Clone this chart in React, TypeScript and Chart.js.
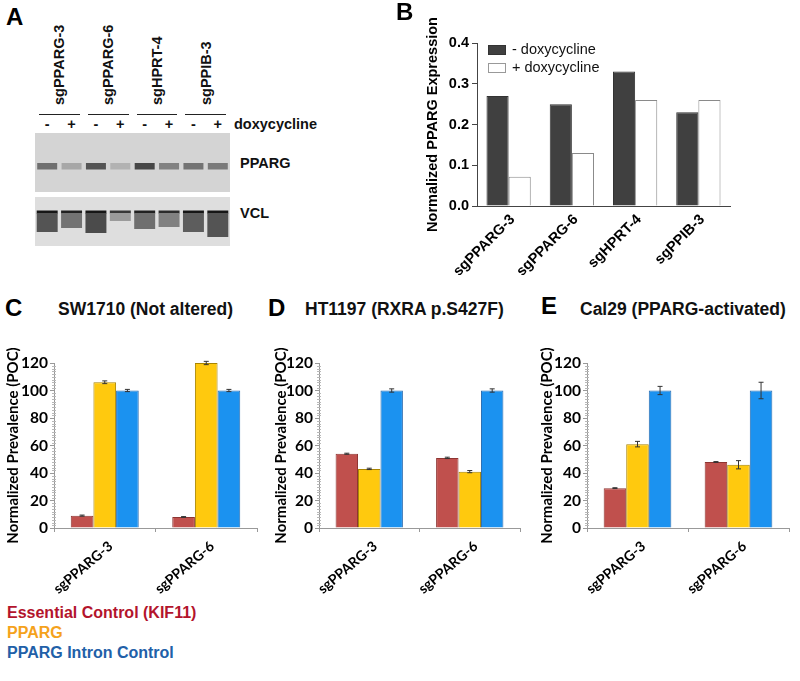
import React, { useEffect, useRef } from 'react';
import { Chart, registerables } from 'chart.js';
Chart.register(...registerables);

// ---------- Panel A (western blot) ----------
const laneSigns = ['-', '+', '-', '+', '-', '+', '-', '+'];
const guidesA = ['sgPPARG-3', 'sgPPARG-6', 'sgHPRT-4', 'sgPPIB-3'];
const ppargBandDarkness = [0.5, 0.25, 0.62, 0.2, 0.68, 0.42, 0.48, 0.45];
const vclLineDarkness = [0.9, 0.85, 0.9, 0.75, 0.85, 0.8, 0.9, 0.9];
const vclSmearDarkness = [0.62, 0.48, 0.66, 0.3, 0.5, 0.42, 0.58, 0.62];
const vclSmearDepth = [19, 15, 20, 8, 16, 14, 19, 24];

// ---------- Panel B ----------
const guidesB = ['sgPPARG-3', 'sgPPARG-6', 'sgHPRT-4', 'sgPPIB-3'];
const minusDox = [0.27, 0.25, 0.33, 0.23];
const plusDox = [0.072, 0.13, 0.26, 0.26];

// ---------- Panels C, D, E ----------
const guidesCDE = ['sgPPARG-3', 'sgPPARG-6'];
const sw1710Kif11 = [9, 8];
const sw1710Pparg = [106, 120];
const sw1710Intron = [100, 100];
const sw1710Kif11Err = [0.4, 0.3];
const sw1710PpargErr = [1, 1.2];
const sw1710IntronErr = [0.8, 0.8];

const ht1197Kif11 = [54, 51];
const ht1197Pparg = [43, 41];
const ht1197Intron = [100, 100];
const ht1197Kif11Err = [0.4, 0.5];
const ht1197PpargErr = [0.5, 0.8];
const ht1197IntronErr = [1.2, 1.2];

const cal29Kif11 = [29, 48];
const cal29Pparg = [61, 46];
const cal29Intron = [100, 100];
const cal29Kif11Err = [0.3, 0.3];
const cal29PpargErr = [2, 3];
const cal29IntronErr = [3, 6];

const ARIAL = '"Liberation Sans", Arial, sans-serif';
const CAL = 'Lato, "Liberation Sans", sans-serif';

const RED = '#c0504d';
const YEL = '#ffc90e';
const BLU = '#1b92f0';

function gray(d: number) {
  const v = Math.round(222 * (1 - d));
  return `rgb(${v},${v},${v})`;
}

const blotBgPlugin = {
  id: 'blotBg',
  beforeDatasetsDraw(chart: any) {
    const { ctx, chartArea, scales } = chart;
    const y = scales.y;
    ctx.save();
    ctx.fillStyle = '#d4d4d4';
    ctx.fillRect(chartArea.left, y.getPixelForValue(0), chartArea.right - chartArea.left, y.getPixelForValue(59) - y.getPixelForValue(0));
    ctx.fillStyle = '#dedede';
    ctx.fillRect(chartArea.left, y.getPixelForValue(64), chartArea.right - chartArea.left, y.getPixelForValue(113) - y.getPixelForValue(64));
    ctx.restore();
  },
};

const errorBarPlugin = {
  id: 'errBars',
  afterDatasetsDraw(chart: any) {
    const { ctx, scales } = chart;
    chart.data.datasets.forEach((ds: any, di: number) => {
      if (!ds.errors) return;
      const meta = chart.getDatasetMeta(di);
      meta.data.forEach((bar: any, i: number) => {
        const v = ds.data[i];
        const e = ds.errors[i];
        const x = bar.x;
        const yTop = scales.y.getPixelForValue(v + e);
        const yBot = scales.y.getPixelForValue(v - e);
        ctx.save();
        ctx.strokeStyle = '#333';
        ctx.lineWidth = 1;
        ctx.beginPath();
        ctx.moveTo(x, yTop);
        ctx.lineTo(x, yBot);
        ctx.moveTo(x - 2.5, yTop);
        ctx.lineTo(x + 2.5, yTop);
        ctx.moveTo(x - 2.5, yBot);
        ctx.lineTo(x + 2.5, yBot);
        ctx.stroke();
        ctx.restore();
      });
    });
  },
};

const minorTickPlugin = {
  id: 'minorTicks',
  afterDraw(chart: any) {
    const { ctx, scales } = chart;
    const y = scales.y;
    const x0 = chart.chartArea.left;
    ctx.save();
    ctx.strokeStyle = '#b8b8b8';
    ctx.lineWidth = 1;
    ctx.beginPath();
    for (let v = 2; v < 120; v += 2) {
      if (v % 20 === 0) continue;
      const py = Math.round(y.getPixelForValue(v)) + 0.5;
      ctx.moveTo(x0 - 2, py);
      ctx.lineTo(x0 + 2, py);
    }
    ctx.stroke();
    ctx.restore();
  },
};

function useChart(ref: any, makeConfig: () => any) {
  useEffect(() => {
    const chart = new Chart(ref.current, makeConfig());
    return () => chart.destroy();
  }, []);
}

function BlotChart() {
  const ref = useRef<HTMLCanvasElement>(null);
  useChart(ref, () => ({
    type: 'bar',
    data: {
      labels: laneSigns,
      datasets: [
        {
          label: 'PPARG',
          data: ppargBandDarkness.map(() => [30, 36.5]),
          backgroundColor: ppargBandDarkness.map(gray),
          grouped: false,
          barPercentage: 0.82,
          categoryPercentage: 1,
        },
        {
          label: 'VCL smear',
          data: vclSmearDepth.map((d) => [80, 80 + d]),
          backgroundColor: vclSmearDarkness.map(gray),
          grouped: false,
          barPercentage: 0.86,
          categoryPercentage: 1,
        },
        {
          label: 'VCL',
          data: vclLineDarkness.map(() => [77.5, 80.5]),
          backgroundColor: vclLineDarkness.map(gray),
          grouped: false,
          barPercentage: 0.86,
          categoryPercentage: 1,
        },
      ],
    },
    options: {
      animation: false,
      responsive: false,
      layout: { padding: { left: 35, top: 133, right: 100, bottom: 4 } },
      plugins: { legend: { display: false }, tooltip: { enabled: false } },
      scales: {
        x: { display: false },
        y: { display: false, min: 0, max: 113, reverse: true },
      },
    },
    plugins: [blotBgPlugin],
  }));
  return <canvas ref={ref} width={330} height={250} style={{ position: 'absolute', left: 0, top: 0 }} />;
}

function ChartB() {
  const ref = useRef<HTMLCanvasElement>(null);
  useChart(ref, () => ({
    type: 'bar',
    data: {
      labels: guidesB,
      datasets: [
        {
          label: '- doxycycline',
          data: minusDox,
          backgroundColor: '#404040',
          borderColor: '#333',
          borderWidth: 1,
          categoryPercentage: 0.7,
          barPercentage: 1,
        },
        {
          label: '+ doxycycline',
          data: plusDox,
          backgroundColor: '#ffffff',
          borderColor: '#8a8a8a',
          borderWidth: 1,
          categoryPercentage: 0.7,
          barPercentage: 1,
        },
      ],
    },
    options: {
      animation: false,
      responsive: false,
      layout: { padding: { left: 0, top: 43, right: 70, bottom: 0 } },
      plugins: { legend: { display: false }, tooltip: { enabled: false } },
      scales: {
        y: {
          min: 0,
          max: 0.4,
          ticks: {
            stepSize: 0.1,
            callback: (v: number) => v.toFixed(1),
            font: { family: ARIAL, size: 14.5, weight: 'bold' },
            color: '#000',
            padding: 3,
          },
          grid: { drawOnChartArea: false, tickLength: 5, color: '#444' },
          border: { color: '#444', width: 1 },
          title: {
            display: true,
            text: 'Normalized PPARG Expression',
            font: { family: ARIAL, size: 14.5, weight: 'bold' },
            color: '#000',
            padding: { top: 24, bottom: 0 },
          },
          afterFit: (s: any) => {
            s.width = 77;
          },
        },
        x: {
          ticks: {
            minRotation: 45,
            maxRotation: 45,
            autoSkip: false,
            font: { family: ARIAL, size: 14.5, weight: 'bold' },
            color: '#000',
            padding: 5,
            labelOffset: 4,
          },
          grid: { drawOnChartArea: false, drawTicks: false, color: '#444' },
          border: { color: '#444', width: 1 },
          afterFit: (s: any) => {
            s.height = 69;
          },
        },
      },
    },
  }));
  return <canvas ref={ref} width={400} height={275} style={{ position: 'absolute', left: 400, top: 0 }} />;
}

type CDEProps = {
  left: number;
  width: number;
  yWidth: number;
  padRight: number;
  titlePad: number;
  kif11: number[];
  pparg: number[];
  intron: number[];
  kif11Err: number[];
  ppargErr: number[];
  intronErr: number[];
};

function ChartCDE(p: CDEProps) {
  const ref = useRef<HTMLCanvasElement>(null);
  useChart(ref, () => ({
    type: 'bar',
    data: {
      labels: guidesCDE,
      datasets: [
        {
          label: 'Essential Control (KIF11)',
          data: p.kif11,
          errors: p.kif11Err,
          backgroundColor: RED,
          borderColor: '#8e3532',
          borderWidth: 1,
          categoryPercentage: 0.67,
          barPercentage: 1,
        },
        {
          label: 'PPARG',
          data: p.pparg,
          errors: p.ppargErr,
          backgroundColor: YEL,
          borderColor: '#a88400',
          borderWidth: 1,
          categoryPercentage: 0.67,
          barPercentage: 1,
        },
        {
          label: 'PPARG Intron Control',
          data: p.intron,
          errors: p.intronErr,
          backgroundColor: BLU,
          borderColor: '#2a6cb0',
          borderWidth: 1,
          categoryPercentage: 0.67,
          barPercentage: 1,
        },
      ],
    },
    options: {
      animation: false,
      responsive: false,
      layout: { padding: { left: 0, top: 33, right: p.padRight, bottom: 0 } },
      plugins: { legend: { display: false }, tooltip: { enabled: false } },
      scales: {
        y: {
          min: 0,
          max: 120,
          ticks: {
            stepSize: 20,
            font: { family: CAL, size: 15.5, weight: 'bold' },
            color: '#000',
            padding: 2,
          },
          grid: { drawOnChartArea: false, tickLength: 4, color: '#999' },
          border: { color: '#999', width: 1 },
          title: {
            display: true,
            text: 'Normalized Prevalence (POC)',
            font: { family: CAL, size: 15, weight: 'bold' },
            color: '#000',
            padding: { top: p.titlePad, bottom: 0 },
          },
          afterFit: (s: any) => {
            s.width = p.yWidth;
          },
        },
        x: {
          ticks: {
            minRotation: 40,
            maxRotation: 40,
            autoSkip: false,
            font: { family: CAL, size: 14, weight: 'bold' },
            color: '#000',
            padding: 6,
            labelOffset: 6,
          },
          grid: { drawOnChartArea: false, tickLength: 4, color: '#999', offset: true },
          border: { color: '#999', width: 1 },
          afterFit: (s: any) => {
            s.height = 72;
          },
        },
      },
    },
    plugins: [errorBarPlugin, minorTickPlugin],
  }));
  return (
    <canvas
      ref={ref}
      width={p.width}
      height={270}
      style={{ position: 'absolute', left: p.left, top: 330 }}
    />
  );
}

const abs = (s: any): any => ({ position: 'absolute', whiteSpace: 'nowrap', ...s });

export default function App() {
  const laneW = 195 / 8;
  const aFont = { fontFamily: ARIAL, fontWeight: 'bold', fontSize: 14.5, color: '#111' };
  const letter = { fontFamily: ARIAL, fontWeight: 'bold', fontSize: 24, color: '#000', lineHeight: '24px' };
  const title = { fontFamily: ARIAL, fontWeight: 'bold', fontSize: 17.5, color: '#111', lineHeight: '20px' };
  return (
    <div style={{ position: 'absolute', left: 0, top: 0, width: 800, height: 681, background: '#fff', overflow: 'hidden' }}>
      {/* Panel A */}
      <div style={abs({ ...letter, left: 6, top: 5 })}>A</div>
      {guidesA.map((g, i) => (
        <div
          key={g}
          style={abs({
            ...aFont,
            left: 35 + (2 * i + 1) * laneW - 45,
            top: 60 - 9,
            width: 90,
            height: 18,
            lineHeight: '18px',
            textAlign: 'left',
            transform: 'rotate(-90deg)',
          })}
        >
          {g}
        </div>
      ))}
      {guidesA.map((g, i) => (
        <div
          key={g + 'line'}
          style={abs({ left: 35 + 2 * i * laneW + 4, top: 114, width: 2 * laneW - 8, height: 0, borderTop: '1.5px solid #222' })}
        />
      ))}
      {laneSigns.map((s, i) => (
        <div
          key={'s' + i}
          style={abs({ ...aFont, left: 35 + (i + 0.5) * laneW - 10, width: 20, top: 115, textAlign: 'center', lineHeight: '18px' })}
        >
          {s}
        </div>
      ))}
      <div style={abs({ ...aFont, left: 234, top: 115, lineHeight: '18px' })}>doxycycline</div>
      <div style={abs({ ...aFont, left: 240, top: 154, lineHeight: '18px' })}>PPARG</div>
      <div style={abs({ ...aFont, left: 240, top: 204, lineHeight: '18px' })}>VCL</div>
      <BlotChart />

      {/* Panel B */}
      <ChartB />
      <div style={abs({ ...letter, left: 396, top: 0 })}>B</div>
      <div style={abs({ left: 488, top: 45, width: 16, height: 8, background: '#404040', border: '1px solid #333' })} />
      <div style={abs({ fontFamily: ARIAL, fontSize: 14.5, color: '#111', left: 512, top: 40, lineHeight: '18px' })}>- doxycycline</div>
      <div style={abs({ left: 488, top: 63, width: 16, height: 8, background: '#fff', border: '1px solid #999' })} />
      <div style={abs({ fontFamily: ARIAL, fontSize: 14.5, color: '#111', left: 512, top: 58, lineHeight: '18px' })}>+ doxycycline</div>

      {/* Panel C */}
      <ChartCDE
        left={0}
        width={270}
        yWidth={54}
        padRight={13}
        titlePad={4}
        kif11={sw1710Kif11}
        pparg={sw1710Pparg}
        intron={sw1710Intron}
        kif11Err={sw1710Kif11Err}
        ppargErr={sw1710PpargErr}
        intronErr={sw1710IntronErr}
      />
      <div style={abs({ ...letter, left: 5, top: 296 })}>C</div>
      <div style={abs({ ...title, left: 58, top: 299 })}>SW1710 (Not altered)</div>

      {/* Panel D */}
      <ChartCDE
        left={270}
        width={260}
        yWidth={49}
        padRight={10}
        titlePad={2}
        kif11={ht1197Kif11}
        pparg={ht1197Pparg}
        intron={ht1197Intron}
        kif11Err={ht1197Kif11Err}
        ppargErr={ht1197PpargErr}
        intronErr={ht1197IntronErr}
      />
      <div style={abs({ ...letter, left: 268, top: 296 })}>D</div>
      <div style={abs({ ...title, left: 305, top: 299 })}>HT1197 (RXRA p.S427F)</div>

      {/* Panel E */}
      <ChartCDE
        left={530}
        width={270}
        yWidth={57}
        padRight={11}
        titlePad={8}
        kif11={cal29Kif11}
        pparg={cal29Pparg}
        intron={cal29Intron}
        kif11Err={cal29Kif11Err}
        ppargErr={cal29PpargErr}
        intronErr={cal29IntronErr}
      />
      <div style={abs({ ...letter, left: 541, top: 294 })}>E</div>
      <div style={abs({ ...title, left: 580, top: 299 })}>Cal29 (PPARG-activated)</div>

      {/* Legend for C-E */}
      <div style={abs({ fontFamily: ARIAL, fontWeight: 'bold', fontSize: 16, color: '#b3142c', left: 7, top: 604, lineHeight: '18px' })}>
        Essential Control (KIF11)
      </div>
      <div style={abs({ fontFamily: ARIAL, fontWeight: 'bold', fontSize: 16, color: '#f5a21c', left: 7, top: 624, lineHeight: '18px' })}>
        PPARG
      </div>
      <div style={abs({ fontFamily: ARIAL, fontWeight: 'bold', fontSize: 16, color: '#2160a8', left: 7, top: 644, lineHeight: '18px' })}>
        PPARG Intron Control
      </div>
    </div>
  );
}
